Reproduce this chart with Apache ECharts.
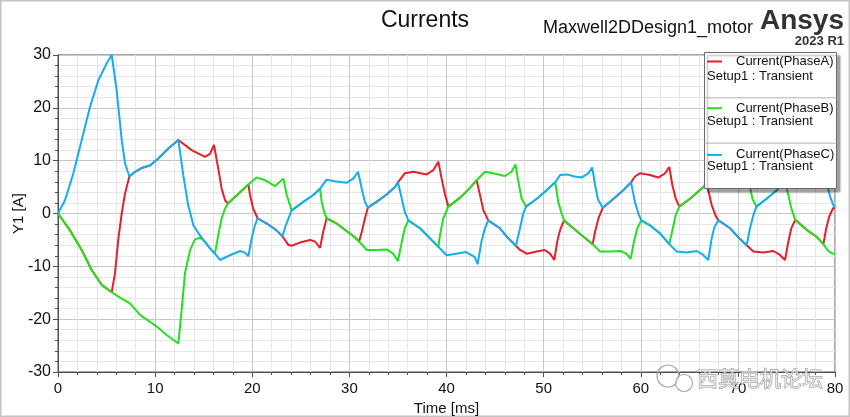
<!DOCTYPE html>
<html>
<head>
<meta charset="utf-8">
<script src="https://cdn.jsdelivr.net/npm/echarts@6/dist/echarts.min.js"></script>
<style>
  html, body { margin: 0; padding: 0; background: #fff; }
  #chart { width: 850px; height: 417px; }
</style>
</head>
<body>
<div id="chart"></div>
<script>
// [time ms, current A]; where two phases coincide the
// hidden one repeats the visible one's points so the overlap lines up.
const phaseA = [
  [0,0],[1.24,-3.2],[2.44,-6.9],[3.47,-10.7],[4.5,-13.5],[5.53,-14.9],[5.87,-11.3],[6.2,-5.0],[6.56,0],[6.9,3.8],
  [7.35,7.0],[7.93,7.9],[8.6,8.6],[9.47,9.1],[10.33,10.4],[11.36,12.3],[12.39,13.9],[13.76,12.0],[15.13,10.7],[15.65,11.3],
  [16.06,13.0],[16.5,8.5],[16.85,4.7],[17.2,2.5],[17.5,1.9],[18.5,3.6],[19.6,5.5],[19.77,3.5],[20.1,0.9],[20.55,-0.9],
  [21.5,-1.9],[22.5,-3.2],[23.1,-4.3],[23.7,-5.9],[24.06,-6.1],[24.9,-5.5],[25.95,-5.0],[26.46,-5.3],[26.98,-6.5],[27.3,-3.5],
  [27.66,-0.9],[28.7,-1.9],[29.7,-3.3],[30.5,-4.4],[31.0,-5.3],[31.27,-3.5],[31.6,-0.95],[31.9,1.1],[32.8,2.2],[33.84,3.6],
  [34.7,5.0],[35.0,5.9],[35.7,7.6],[36.6,7.9],[37.96,7.4],[38.64,8.2],[39.16,9.8],[39.5,6.6],[39.86,3.5],[40.2,1.3],
  [41.4,3.0],[42.4,4.8],[43.1,6.3],[43.45,3.5],[43.8,0.6],[44.3,-1.3],[45.5,-2.8],[46.36,-4.7],[47.15,-6.1],[47.57,-6.9],
  [48.25,-7.6],[49.3,-7.2],[50.1,-6.9],[50.66,-7.6],[51.1,-8.8],[51.4,-5.3],[51.7,-3.1],[52.1,-1.3],[53.06,-2.8],[54.1,-4.4],
  [55.05,-5.8],[55.3,-3.4],[55.65,-0.9],[56.1,1.1],[57.2,2.8],[58.2,4.4],[59.0,5.9],[59.4,7.0],[59.9,7.6],[60.95,7.3],
  [61.8,6.8],[62.5,7.6],[62.94,8.8],[63.25,5.4],[63.6,2.8],[63.97,1.3],[65.07,2.8],[66.4,4.9],[66.7,5.6],[66.95,4.4],
  [67.3,1.6],[67.75,-0.6],[68.0,-1.3],[69.2,-2.8],[70.1,-4.6],[70.9,-6.0],[71.6,-7.2],[72.6,-7.4],[73.65,-7.1],[74.3,-7.8],
  [74.85,-8.8],[75.2,-5.3],[75.5,-2.8],[75.9,-1.2],[77.1,-3.1],[78.1,-4.4],[78.8,-5.8],[79.1,-2.8],[79.4,-0.6],[79.8,1.0],
  [80,1.1]
];
const phaseB = [
  [0,0],[1.24,-3.2],[2.44,-6.9],[3.47,-10.7],[4.5,-13.5],[5.53,-14.9],[6.56,-16.1],[7.41,-17.0],[8.44,-19.2],[9.47,-20.5],
  [10.16,-21.4],[11.19,-23.0],[12.39,-24.6],[12.73,-18.3],[13.07,-11.3],[13.6,-6.9],[14.1,-4.9],[14.6,-4.6],[14.96,-5.0],[15.65,-6.6],
  [16.16,-7.6],[16.5,-4.1],[16.85,-0.9],[17.2,0.95],[17.5,1.9],[18.5,3.6],[19.6,5.5],[20.45,6.8],[21.3,6.3],[22.35,5.2],
  [23.2,6.6],[23.55,3.5],[24.06,0.6],[25.26,2.2],[26.29,3.5],[26.98,4.7],[27.15,2.2],[27.4,0.3],[27.66,-0.9],[28.7,-1.9],
  [29.7,-3.3],[30.5,-4.4],[31.0,-5.3],[31.8,-6.9],[32.8,-6.9],[33.84,-6.8],[34.5,-7.6],[35.0,-9.0],[35.4,-5.3],[35.7,-2.8],
  [36.07,-1.3],[37.27,-2.8],[38.3,-4.7],[39.16,-6.3],[39.33,-4.1],[39.67,-0.9],[40.2,1.3],[41.4,3.0],[42.4,4.8],[43.1,6.3],
  [43.96,7.9],[44.8,7.6],[46.0,7.1],[46.7,7.9],[47.1,9.3],[47.4,6.0],[47.74,2.8],[48.2,1.3],[49.3,2.8],[50.3,4.4],
  [51.2,5.9],[51.5,2.2],[51.86,0],[52.1,-1.3],[53.06,-2.8],[54.1,-4.4],[55.05,-5.8],[55.8,-7.2],[56.8,-7.2],[57.9,-7.1],
  [58.5,-7.6],[58.96,-8.6],[59.3,-5.3],[59.65,-2.8],[60.05,-1.3],[61.0,-2.3],[62.0,-3.8],[62.94,-5.8],[63.3,-2.8],[63.6,-0.3],
  [63.97,1.3],[65.07,2.8],[66.4,4.9],[66.7,5.6],[67.2,7.0],[67.7,7.6],[68.7,7.3],[69.6,6.8],[70.3,7.6],[70.85,8.9],
  [71.15,5.8],[71.5,2.8],[71.9,1.3],[72.96,2.8],[74.0,4.4],[74.85,5.9],[75.2,3.5],[75.5,1.0],[75.9,-1.2],[77.1,-3.1],
  [78.1,-4.4],[78.8,-5.8],[79.3,-7.1],[79.8,-7.6],[80,-7.6]
];
const phaseC = [
  [0,0],[0.72,2.5],[1.58,7.6],[2.44,13.9],[3.3,20.2],[4.15,25.2],[5.0,28.4],[5.53,30.0],[6.04,23.3],[6.56,13.9],
  [6.9,9.5],[7.35,7.0],[7.93,7.9],[8.6,8.6],[9.47,9.1],[10.33,10.4],[11.36,12.3],[12.39,13.9],[12.9,7.2],[13.4,1.6],
  [13.93,-2.2],[14.45,-3.7],[14.96,-5.0],[15.65,-6.6],[16.16,-7.6],[16.68,-8.8],[17.7,-7.9],[18.74,-7.1],[19.25,-7.4],[19.6,-8.1],
  [19.94,-4.7],[20.28,-2.2],[20.55,-0.9],[21.5,-1.9],[22.5,-3.2],[23.1,-4.3],[23.5,-2.0],[24.06,0.6],[25.26,2.2],[26.29,3.5],
  [26.98,4.7],[27.66,6.4],[28.5,6.1],[29.7,5.8],[30.4,6.6],[30.9,7.9],[31.27,4.7],[31.6,2.2],[31.9,1.1],[32.8,2.2],
  [33.84,3.6],[34.7,5.0],[35.0,5.9],[35.4,2.8],[35.7,0.3],[36.07,-1.3],[37.27,-2.8],[38.3,-4.7],[39.16,-6.3],[40.0,-7.9],
  [41.0,-7.6],[42.0,-7.3],[42.9,-8.2],[43.2,-9.6],[43.6,-5.3],[43.96,-2.8],[44.3,-1.3],[45.5,-2.8],[46.36,-4.7],[47.15,-6.1],
  [47.57,-2.8],[47.9,0],[48.2,1.3],[49.3,2.8],[50.3,4.4],[51.2,5.9],[51.7,7.3],[52.4,7.4],[53.2,7.0],[53.9,6.8],
  [54.6,7.6],[55.0,8.7],[55.3,5.4],[55.6,2.6],[56.1,1.1],[57.2,2.8],[58.2,4.4],[59.0,5.9],[59.4,2.2],[59.75,0],
  [60.05,-1.3],[61.0,-2.3],[62.0,-3.8],[62.94,-5.8],[63.7,-7.2],[64.7,-7.4],[65.76,-7.1],[66.4,-7.8],[66.95,-8.8],[67.3,-4.7],
  [67.6,-2.5],[68.0,-1.3],[69.2,-2.8],[70.1,-4.6],[70.9,-6.0],[71.25,-2.8],[71.6,-0.3],[71.9,1.3],[72.96,2.8],[74.0,4.4],
  [74.85,5.9],[75.3,7.0],[75.8,7.6],[76.8,7.3],[77.7,6.8],[78.4,7.6],[78.85,8.8],[79.2,5.4],[79.5,3.2],[79.85,1.5],
  [80,1.1]
];

const seriesNames = ['Current(PhaseA)', 'Current(PhaseB)', 'Current(PhaseC)'];
const seriesColors = ['#e3202b', '#22e11e', '#14aef0'];
const setupLabel = 'Setup1 : Transient';

const FONT = '"Liberation Sans", Arial, sans-serif';

const chart = echarts.init(document.getElementById('chart'));

const axisCommon = {
  type: 'value',
  axisLine: { show: true, onZero: false, lineStyle: { color: '#505050', width: 1 } },
  axisTick: { show: true, inside: false, length: 5, lineStyle: { color: '#505050' } },
  minorTick: { show: true, splitNumber: 5, length: 3, lineStyle: { color: '#505050' } },
  splitLine: { show: true, lineStyle: { color: '#c6c6c6', width: 1 } },
  minorSplitLine: { show: true, lineStyle: { color: '#e6e6e6', width: 1 } },
  axisLabel: { color: '#111', fontSize: 15, fontFamily: FONT },
  nameLocation: 'middle',
  nameMoveOverlap: false,
  nameTextStyle: { color: '#111', fontSize: 15, fontFamily: FONT }
};

const legendBox = { x: 704.5, y: 52.5, w: 132, h: 136 };
const blockH = legendBox.h / 3;

const graphics = [
  // outer frame of the picture
  { type: 'rect', silent: true, z: 0, shape: { x: 0.75, y: 0.75, width: 848.5, height: 415.5 },
    style: { fill: 'none', stroke: '#c4c4c4', lineWidth: 1.5 } },
  { type: 'text', silent: true, style: { text: 'Maxwell2DDesign1_motor', x: 543, y: 28, fill: '#111',
      fontSize: 18, fontFamily: FONT, textAlign: 'left', textVerticalAlign: 'middle' } },
  { type: 'text', silent: true, style: { text: 'Ansys', x: 844, y: 21, fill: '#333',
      fontSize: 28, fontWeight: 'bold', fontFamily: FONT, textAlign: 'right', textVerticalAlign: 'middle' } },
  { type: 'text', silent: true, style: { text: '2023 R1', x: 844, y: 41, fill: '#333',
      fontSize: 13, fontWeight: 'bold', fontFamily: FONT, textAlign: 'right', textVerticalAlign: 'middle' } },
  // legend frame, with drop shadow
  { type: 'rect', silent: true, z: 10,
    shape: { x: legendBox.x, y: legendBox.y, width: legendBox.w, height: legendBox.h },
    style: { fill: '#fff', stroke: '#6a6a6a', lineWidth: 1,
      shadowColor: 'rgba(0,0,0,0.35)', shadowBlur: 2, shadowOffsetX: 3, shadowOffsetY: 3 } },
  // watermark
  { type: 'circle', silent: true, z: 30, shape: { cx: 668, cy: 376, r: 11 },
    style: { fill: 'none', stroke: '#a8a8a8', lineWidth: 1.2 } },
  { type: 'circle', silent: true, z: 30, shape: { cx: 684, cy: 383, r: 8.5 },
    style: { fill: 'rgba(255,255,255,0.6)', stroke: '#a8a8a8', lineWidth: 1.2 } },
  { type: 'text', silent: true, z: 30, style: { text: '西莫电机论坛', x: 697, y: 378,
      fill: 'rgba(255,255,255,0.55)', stroke: '#9c9c9c', lineWidth: 1,
      fontSize: 21, fontFamily: '"Noto Sans CJK SC", sans-serif',
      textAlign: 'left', textVerticalAlign: 'middle' } }
];

for (let i = 0; i < 3; i++) {
  if (i > 0) {
    graphics.push({ type: 'line', silent: true, z: 11,
      shape: { x1: legendBox.x, y1: legendBox.y + blockH * i, x2: legendBox.x + legendBox.w, y2: legendBox.y + blockH * i },
      style: { stroke: '#b4b4b4', lineWidth: 1 } });
  }
  graphics.push({ type: 'text', silent: true, z: 21,
    style: { text: setupLabel, x: 707, y: legendBox.y + blockH * i + 23.5, fill: '#111',
      fontSize: 13, fontFamily: FONT, textAlign: 'left', textVerticalAlign: 'middle' } });
}

const option = {
  animation: false,
  backgroundColor: '#fff',
  title: {
    text: 'Currents',
    left: 'center',
    top: 4,
    textStyle: { color: '#111', fontSize: 23, fontWeight: 'normal', fontFamily: FONT }
  },
  grid: {
    left: 58, right: 15, top: 55, bottom: 45,
    containLabel: false,
    outerBoundsMode: 'none',
    show: true, borderColor: '#505050', borderWidth: 1
  },
  legend: {
    data: seriesNames,
    orient: 'vertical',
    left: 702,
    top: 49,
    padding: 5,
    itemGap: 31.7,
    itemWidth: 15,
    itemHeight: 2,
    icon: 'rect',
    selectedMode: false,
    z: 20,
    textStyle: { color: '#111', fontSize: 13, lineHeight: 15, fontFamily: FONT, padding: [0, 0, 0, 9] }
  },
  xAxis: Object.assign({}, axisCommon, {
    min: 0, max: 80, interval: 10,
    axisLabel: Object.assign({}, axisCommon.axisLabel, { margin: 9 }),
    name: 'Time [ms]', nameGap: 29
  }),
  yAxis: Object.assign({}, axisCommon, {
    min: -30, max: 30, interval: 10,
    axisLabel: Object.assign({}, axisCommon.axisLabel, { fontSize: 16, margin: 7 }),
    name: 'Y1 [A]', nameGap: 32
  }),
  graphic: { elements: graphics },
  series: [phaseA, phaseB, phaseC].map((d, i) => ({
    name: seriesNames[i],
    type: 'line',
    data: d,
    symbol: 'none',
    showSymbol: false,
    z: 2 + i * 0.1,
    lineStyle: { color: seriesColors[i], width: 2 },
    itemStyle: { color: seriesColors[i] }
  }))
};

chart.setOption(option);
</script>
</body>
</html>
